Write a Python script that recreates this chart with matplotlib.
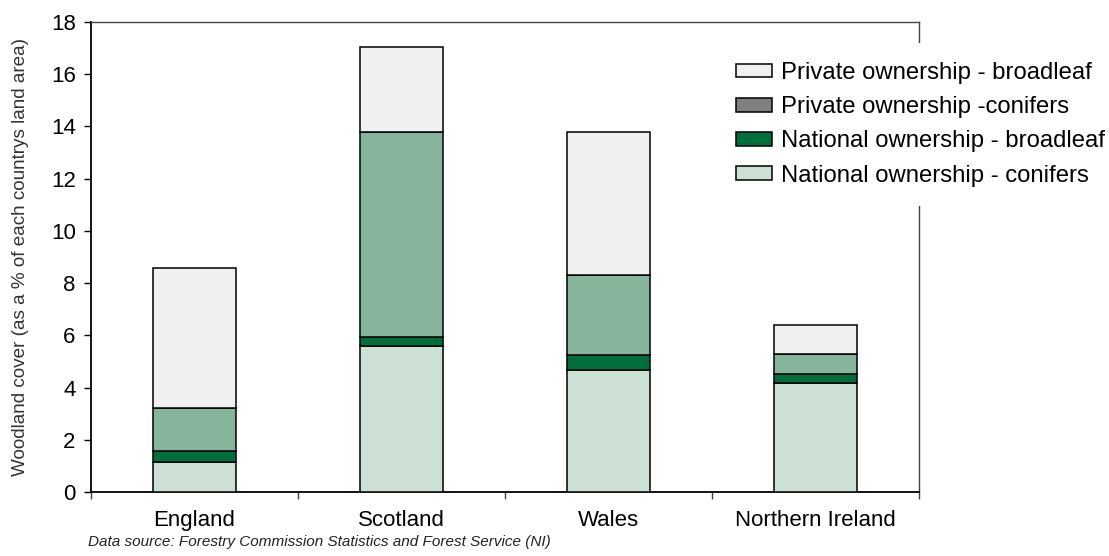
import matplotlib.pyplot as plt
import numpy as np
from matplotlib.patches import Patch

plt.rcParams['font.family'] = ['Liberation Sans', 'DejaVu Sans']

countries = ["England", "Scotland", "Wales", "Northern Ireland"]
national_conifers = [1.16, 5.59, 4.67, 4.16]
national_broadleaf = [0.41, 0.33, 0.58, 0.35]
private_conifers = [1.66, 7.87, 3.06, 0.79]
private_broadleaf = [5.36, 3.25, 5.48, 1.08]

def main():
    fig = plt.figure(figsize=(11.09, 5.56), dpi=100)
    ax = fig.add_axes([91/1109, 1-492/556, (919-91)/1109, (492-22)/556])

    x = np.arange(len(countries))
    w = 0.404
    bottom = np.zeros(len(countries))
    series = [
        (national_conifers, "#CCE0D4"),
        (national_broadleaf, "#006F3C"),
        (private_conifers, "#86B59B"),
        (private_broadleaf, "#F0F0F0"),
    ]
    for vals, col in series:
        ax.bar(x, vals, w, bottom=bottom, color=col, edgecolor="black",
               linewidth=1.1, zorder=3)
        bottom += np.array(vals)

    ax.set_xlim(-0.5, 3.5)
    ax.set_ylim(0, 18)
    ax.set_yticks(np.arange(0, 19, 2))
    ax.set_xticks(np.arange(-0.5, 3.6, 1))
    ax.set_xticklabels([])
    ax.set_xticks(x, minor=True)
    ax.set_xticklabels(countries, minor=True)
    ax.tick_params(axis="x", which="minor", length=0, pad=13, labelsize=16)
    ax.tick_params(axis="x", which="major", length=5, width=1, color="#444444")
    ax.tick_params(axis="y", length=5, width=1, labelsize=16, pad=6)

    for s in ["left", "bottom"]:
        ax.spines[s].set_linewidth(1.3)
        ax.spines[s].set_color("black")
    for s in ["top", "right"]:
        ax.spines[s].set_linewidth(1.0)
        ax.spines[s].set_color("#444444")

    ax.set_ylabel("Woodland cover (as a % of each countrys land area)",
                  fontsize=13.6, color="#333333", labelpad=16)

    handles = [
        Patch(facecolor="#F0F0F0", edgecolor="black", linewidth=1.1),
        Patch(facecolor="#808080", edgecolor="black", linewidth=1.1),
        Patch(facecolor="#006F3C", edgecolor="black", linewidth=1.1),
        Patch(facecolor="#CCE0D4", edgecolor="black", linewidth=1.1),
    ]
    labels = ["Private ownership - broadleaf", "Private ownership -conifers",
              "National ownership - broadleaf", "National ownership - conifers"]
    leg = ax.legend(handles, labels, loc="upper left",
                    bbox_to_anchor=(717/1109, 1-43/556),
                    bbox_transform=fig.transFigure,
                    fontsize=17.2, handlelength=1.5, handleheight=0.5,
                    handletextpad=0.38, labelspacing=0.51, borderpad=0.8,
                    borderaxespad=0, fancybox=False, frameon=True)
    leg.get_frame().set_facecolor("white")
    leg.get_frame().set_edgecolor("none")
    leg.get_frame().set_alpha(1)

    fig.text(88/1109, 1-546/556,
             "Data source: Forestry Commission Statistics and Forest Service (NI)",
             fontsize=11, style="italic", color="#222222", va="baseline")

    fig.savefig("out.png", dpi=100)

if __name__ == "__main__":
    main()
